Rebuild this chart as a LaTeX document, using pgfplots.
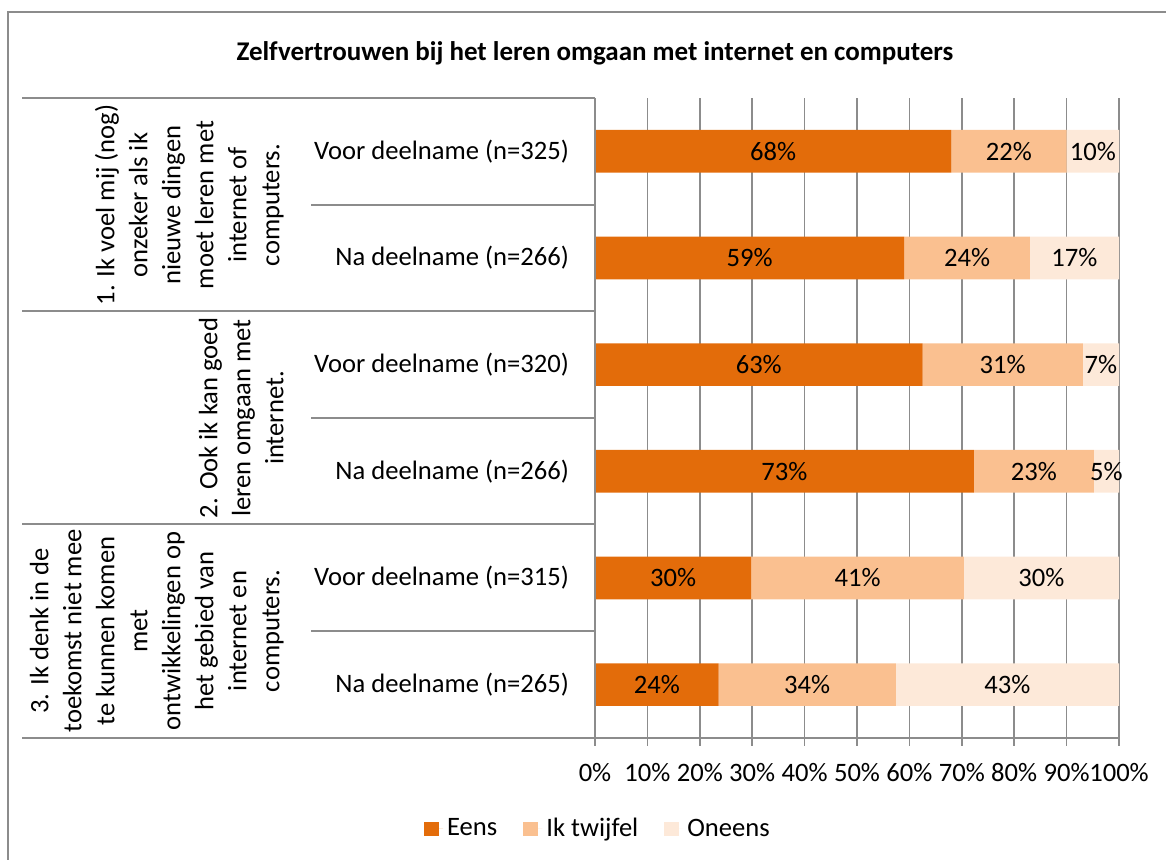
\documentclass[border=0pt]{standalone}
\usepackage{fontspec}
\setmainfont{Carlito}
\usepackage{pgfplots}
\usepackage{pgfplotstable}
\pgfplotsset{compat=1.18}
\definecolor{eens}{HTML}{E36C0A}
\definecolor{twijfel}{HTML}{FAC090}
\definecolor{oneens}{HTML}{FDE9D9}
\definecolor{lijn}{HTML}{8C8C8C}
\newcommand\lbl{\fontsize{13.3pt}{16.5pt}\selectfont}

% stacked shares per row (top row at y=5.5)
\pgfplotstableread{
y   e    t    o
5.5 68   22   10
4.5 59   24   17
3.5 62.5 30.6 6.9
2.5 72.3 22.9 4.8
1.5 29.8 40.6 29.6
0.5 23.6 33.8 42.6
}\bars

% value labels, at the middle of each segment
\pgfplotstableread{
x     y   t
34    5.5 68
79    5.5 22
95    5.5 10
29.5  4.5 59
71    4.5 24
91.5  4.5 17
31.25 3.5 63
77.8  3.5 31
96.55 3.5 7
36.15 2.5 73
83.75 2.5 23
97.6  2.5 5
14.9  1.5 30
50.1  1.5 41
85.2  1.5 30
11.8  0.5 24
40.5  0.5 34
78.7  0.5 43
}\labels

\begin{document}
\begin{tikzpicture}
\path[use as bounding box] (0,0) rectangle (583pt,430pt);
\draw[lijn, line width=0.75pt] (4pt,0) -- (4pt,424pt) -- (583pt,424pt);

\node[font=\bfseries\fontsize{13.5pt}{16pt}\selectfont] at (297.5pt,403.5pt)
  {Zelfvertrouwen bij het leren omgaan met internet en computers};

\begin{axis}[
  at={(297.5pt,61pt)}, anchor=south west,
  scale only axis, width=262pt, height=320pt,
  xbar stacked, bar width=0.4,
  xmin=0, xmax=100, ymin=0, ymax=6,
  xtick={0,10,...,100},
  xticklabels={0\%,10\%,20\%,30\%,40\%,50\%,60\%,70\%,80\%,90\%,100\%},
  xtick pos=left,
  ytick={0.5,1.5,...,5.5},
  yticklabels={{Na deelname (n=265)},{Voor deelname (n=315)},{Na deelname (n=266)},
               {Voor deelname (n=320)},{Na deelname (n=266)},{Voor deelname (n=325)}},
  ytick style={draw=none},
  xtick style={lijn, line width=0.75pt},
  major tick length=4pt, tick align=outside,
  axis line style={draw=none},
  xmajorgrids, grid style={lijn, line width=0.75pt},
  tick label style={font=\lbl},
  xticklabel style={yshift=-5pt},
  yticklabel style={xshift=-5.5pt},
  /pgf/number format/assume math mode=true,
  legend columns=3,
  legend style={draw=none, fill=none, font=\lbl, at={(0.0076,-0.142)}, anchor=center,
    /tikz/every even column/.append style={column sep=11pt}},
  legend image code/.code={\fill[#1] (0pt,-3.6pt) rectangle (7.25pt,3.6pt);
    \path (0pt,0pt) -- (9.5pt,0pt);},
]
\addplot[fill=eens, draw=none] table[x=e, y=y]{\bars};
\addplot[fill=twijfel, draw=none] table[x=t, y=y]{\bars};
\addplot[fill=oneens, draw=none] table[x=o, y=y]{\bars};
\legend{Eens, Ik twijfel, Oneens}
\end{axis}

\begin{axis}[
  at={(297.5pt,61pt)}, anchor=south west,
  scale only axis, width=262pt, height=320pt,
  xmin=0, xmax=100, ymin=0, ymax=6,
  hide axis, clip=false,
]
\addplot[draw=none, mark=none, point meta=explicit symbolic,
  nodes near coords={\pgfplotspointmeta\%},
  every node near coord/.append style={anchor=center, font=\lbl, text=black}]
  table[x=x, y=y, meta=t]{\labels};
\end{axis}

% category axis: separators and group labels
\draw[lijn, line width=0.75pt] (11pt,381pt) -- (297.5pt,381pt);
\draw[lijn, line width=0.75pt] (11pt,274.5pt) -- (297.5pt,274.5pt);
\draw[lijn, line width=0.75pt] (11pt,168pt) -- (297.5pt,168pt);
\draw[lijn, line width=0.75pt] (11pt,61pt) -- (559.5pt,61pt);
\draw[lijn, line width=0.75pt] (155.5pt,327.5pt) -- (297.5pt,327.5pt);
\draw[lijn, line width=0.75pt] (155.5pt,221pt) -- (297.5pt,221pt);
\draw[lijn, line width=0.75pt] (155.5pt,114.5pt) -- (297.5pt,114.5pt);
\draw[lijn, line width=0.75pt] (297.5pt,61pt) -- (297.5pt,381pt);

\begin{scope}[every node/.style={rotate=90, anchor=south, align=center, inner sep=0pt, font=\lbl}]
\node at (142pt,327.5pt) {1. Ik voel mij (nog)\\onzeker als ik\\nieuwe dingen\\moet leren met\\internet of\\computers.};
\node at (142pt,221pt) {2. Ook ik kan goed\\leren omgaan met\\internet.};
\node at (142pt,114.5pt) {3. Ik denk in de\\toekomst niet mee\\te kunnen komen\\met\\ontwikkelingen op\\het gebied van\\internet en\\computers.};
\end{scope}
\end{tikzpicture}
\end{document}
